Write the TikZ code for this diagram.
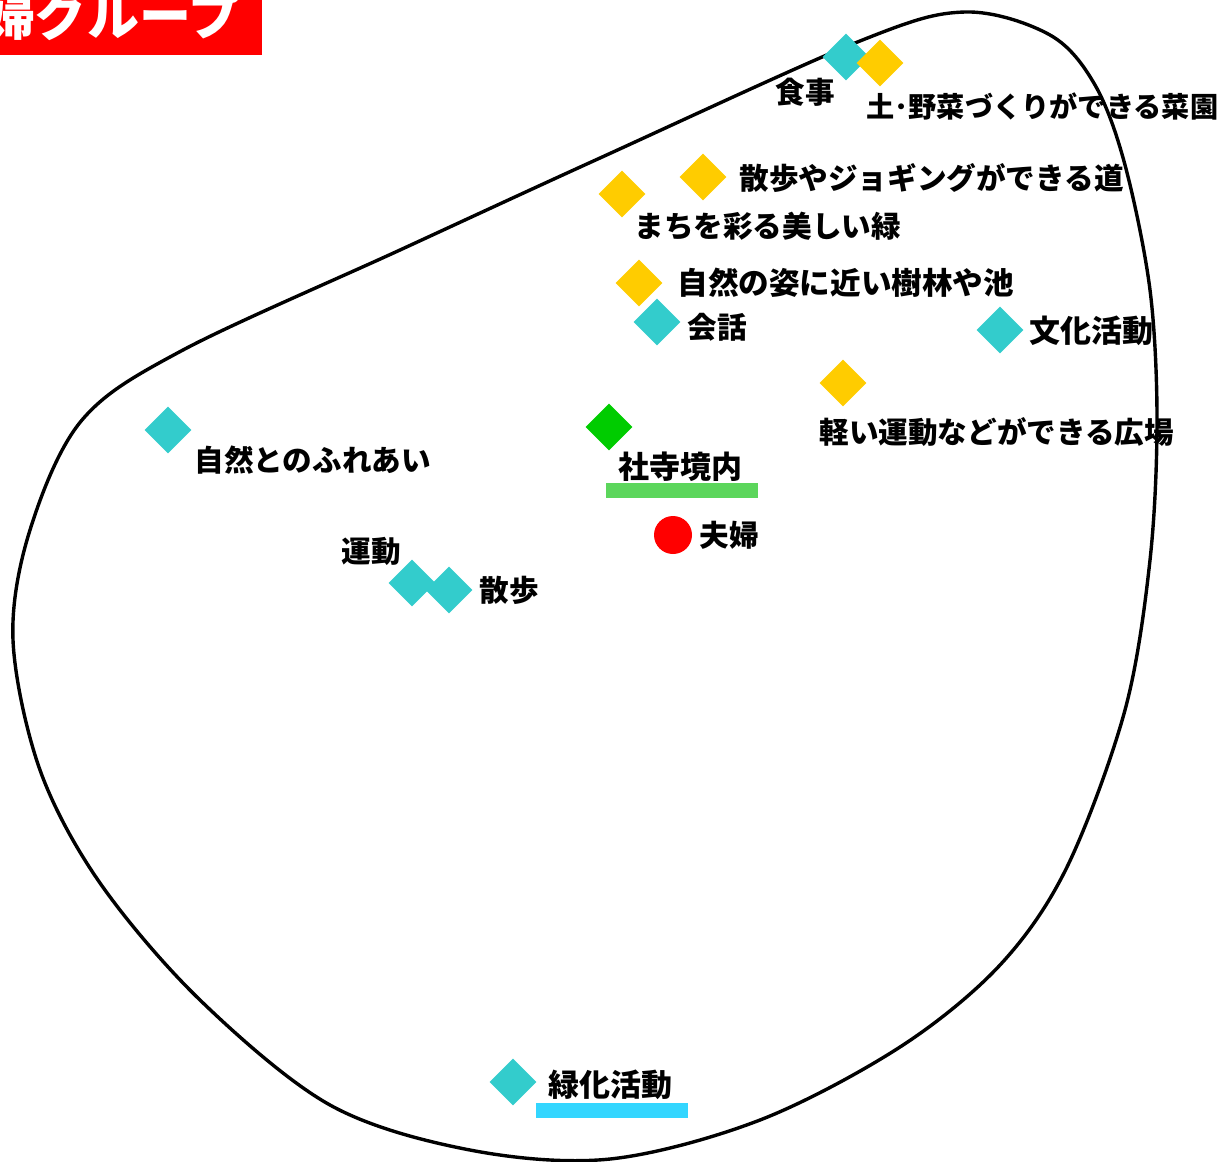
\documentclass[tikz,border=0pt]{standalone}
\usepackage{fontspec}
\setmainfont{Noto Sans CJK JP}
\usetikzlibrary{shapes.geometric}
\definecolor{markteal}{RGB}{51,204,204}
\definecolor{markyellow}{RGB}{255,204,0}
\definecolor{markgreen}{RGB}{0,204,0}
\definecolor{barblue}{RGB}{51,214,255}
\definecolor{bargreen}{RGB}{92,214,92}
\tikzset{
  markerbase/.style={diamond, inner sep=0pt, minimum size=23.5pt},
  tealmark/.style={markerbase, fill=markteal},
  yellowmark/.style={markerbase, fill=markyellow},
  greenmark/.style={markerbase, fill=markgreen},
  lbl/.style={anchor=west, inner sep=0pt, font=\bfseries\fontsize{14.8}{15}\selectfont},
  hlbar/.style={inner sep=0pt, minimum width=76pt, minimum height=7.5pt},
}

\begin{document}
\begin{tikzpicture}[x=0.5pt, y=-0.5pt]
  \useasboundingbox (0,0) rectangle (1229,1161);
  % group title
  \fill[red] (0,0) rectangle (262,55);
  \node[anchor=east, inner sep=0pt, text=white, font=\bfseries\fontsize{26}{26}\selectfont] (title) at (241,15) {夫婦グループ};
  % outline
  \draw[line width=1.7pt] plot[smooth cycle, tension=0.55] coordinates {
    (965,12) (1050,35) (1095,85) (1125,165) (1150,290) (1157,420) (1150,560)
    (1125,710) (1067,867) (1000,965) (900,1047) (760,1120) (610,1159)
    (470,1150) (330,1105) (200,1000) (100,883) (40,770) (13,640) (30,530)
    (82,420) (183,350) (400,250) (600,158) (860,41)};
  % markers
  \node[tealmark]   (shokuji)  at (846,57)   {};
  \node[yellowmark] (saien)    at (880,63)   {};
  \node[yellowmark] (michi)    at (703,177)  {};
  \node[yellowmark] (midori)   at (622,194)  {};
  \node[yellowmark] (jurin)    at (639,283)  {};
  \node[tealmark]   (kaiwa)    at (657,322)  {};
  \node[tealmark]   (bunka)    at (1000,330) {};
  \node[yellowmark] (hiroba)   at (843,383)  {};
  \node[greenmark]  (shaji)    at (609,427)  {};
  \node[tealmark]   (fureai)   at (168,430)  {};
  \node[tealmark]   (undo)     at (412,583)  {};
  \node[tealmark]   (sanpo)    at (449,590)  {};
  \node[tealmark]   (ryokuka)  at (513,1082) {};
  \node[circle, fill=red, inner sep=0pt, minimum size=19pt] (fufu) at (673,535) {};
  % underline bars
  \node[hlbar, fill=bargreen] (shajibar)   at (682,490.5)  {};
  \node[hlbar, fill=barblue]  (ryokukabar) at (612,1110.5) {};
  % labels
  \node[lbl] (shokujiL) at (775,92)   {食事};
  \node[lbl, font=\bfseries\fontsize{14.1}{15}\selectfont] (saienL) at (866,106) {土･野菜づくりができる菜園};
  \node[lbl] (michiL)   at (739,178)  {散歩やジョギングができる道};
  \node[lbl] (midoriL)  at (634,226)  {まちを彩る美しい緑};
  \node[lbl, font=\bfseries\fontsize{15.3}{15}\selectfont] (jurinL) at (677,283) {自然の姿に近い樹林や池};
  \node[lbl] (kaiwaL)   at (687,327)  {会話};
  \node[lbl, font=\bfseries\fontsize{15.5}{15}\selectfont] (bunkaL) at (1029,331) {文化活動};
  \node[lbl] (hirobaL)  at (819,432)  {軽い運動などができる広場};
  \node[lbl, font=\bfseries\fontsize{15.5}{15}\selectfont] (shajiL) at (618,467) {社寺境内};
  \node[lbl] (fufuL)    at (699,535)  {夫婦};
  \node[lbl] (fureaiL)  at (194,460)  {自然とのふれあい};
  \node[lbl] (undoL)    at (341,551)  {運動};
  \node[lbl] (sanpoL)   at (479,590)  {散歩};
  \node[lbl, font=\bfseries\fontsize{15.5}{15}\selectfont] (ryokukaL) at (548,1085) {緑化活動};
\end{tikzpicture}
\end{document}
